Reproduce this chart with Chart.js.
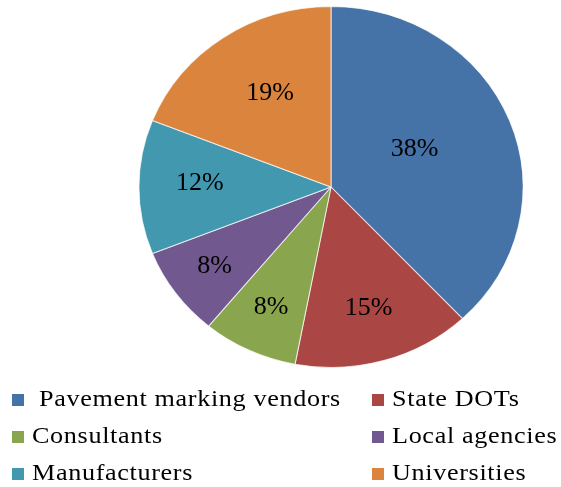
<!DOCTYPE html>
<html>
<head>
<meta charset="utf-8">
<script src="https://cdn.jsdelivr.net/npm/chart.js@4/dist/chart.umd.min.js"></script>
<style>
  html, body { margin: 0; padding: 0; background: #ffffff; }
  #wrap { position: relative; width: 561px; height: 487px; overflow: hidden; }
  #c { position: absolute; left: 0; top: 0; }
  #legend { position: absolute; left: 0; top: 0; width: 561px; height: 487px; pointer-events: none; }
  .item { position: absolute; height: 24px; white-space: nowrap; }
  .box { position: absolute; left: 0; top: 8px; width: 12px; height: 12px; }
  .txt { position: absolute; top: 0; display: inline-block; font-family: "Liberation Serif", "Times New Roman", serif; font-size: 24px; line-height: 24px; letter-spacing: 0.6px; color: #000; transform: scaleX(1.09); transform-origin: 0 50%; }
</style>
</head>
<body>
<div id="wrap">
  <canvas id="c" width="561" height="487"></canvas>
  <div id="legend"></div>
</div>
<script>
// ---- data ----
const categories = ['Pavement marking vendors', 'State DOTs', 'Consultants', 'Local agencies', 'Manufacturers', 'Universities'];
const shares = [38, 15, 8, 8, 12, 19];
const shareLabels = ['38%', '15%', '8%', '8%', '12%', '19%'];

// ---- styles ----
const sliceColors = ['#4572A7', '#AA4643', '#89A54E', '#71588F', '#4198AF', '#DB843D'];
const labelDistance = [0.484, 0.70, 0.734, 0.75, 0.684, 0.61];
const labelAngleTweak = [-4.2, 0, 0, 0, 1.9, 2.8];
const xStretch = 1.064;

const piePlugin = {
  id: 'pieDecor',
  beforeDatasetsDraw(chart) {
    const meta = chart.getDatasetMeta(0);
    const arc = meta.data[0];
    const ctx = chart.ctx;
    ctx.save();
    ctx.translate(arc.x, arc.y);
    ctx.scale(xStretch, 1);
    ctx.translate(-arc.x, -arc.y);
  },
  afterDatasetsDraw(chart) {
    const ctx = chart.ctx;
    ctx.restore();
    const meta = chart.getDatasetMeta(0);
    ctx.save();
    ctx.font = '26px "Liberation Serif", "Times New Roman", serif';
    ctx.fillStyle = '#000000';
    ctx.textAlign = 'center';
    ctx.textBaseline = 'middle';
    meta.data.forEach((a, i) => {
      const mid = (a.startAngle + a.endAngle) / 2 + labelAngleTweak[i] * Math.PI / 180;
      const d = a.outerRadius * labelDistance[i];
      const x = a.x + Math.cos(mid) * d * xStretch;
      const y = a.y + Math.sin(mid) * d;
      ctx.fillText(shareLabels[i], x, y);
    });
    ctx.restore();
  },
  afterUpdate(chart) {
    const host = document.getElementById('legend');
    host.innerHTML = '';
    const colX = [12, 372];
    const rowTop0 = 386, rowStep = 37;
    chart.data.labels.forEach((lab, i) => {
      const item = document.createElement('div');
      item.className = 'item';
      item.style.left = colX[i % 2] + 'px';
      item.style.top = (rowTop0 + Math.floor(i / 2) * rowStep) + 'px';
      const box = document.createElement('span');
      box.className = 'box';
      box.style.background = chart.data.datasets[0].backgroundColor[i];
      const t = document.createElement('span');
      t.className = 'txt';
      t.textContent = lab;
      t.style.left = (i === 0 ? 27 : 20) + 'px';
      item.appendChild(box);
      item.appendChild(t);
      host.appendChild(item);
    });
  }
};

new Chart(document.getElementById('c'), {
  type: 'pie',
  data: {
    labels: categories,
    datasets: [{
      data: shares,
      backgroundColor: sliceColors,
      borderColor: 'rgba(255,255,255,0.7)',
      borderWidth: 1
    }]
  },
  options: {
    responsive: false,
    animation: false,
    events: [],
    layout: { padding: { left: 150, right: 49, top: 6, bottom: 119 } },
    plugins: {
      legend: { display: false },
      tooltip: { enabled: false }
    }
  },
  plugins: [piePlugin]
});
</script>
</body>
</html>
